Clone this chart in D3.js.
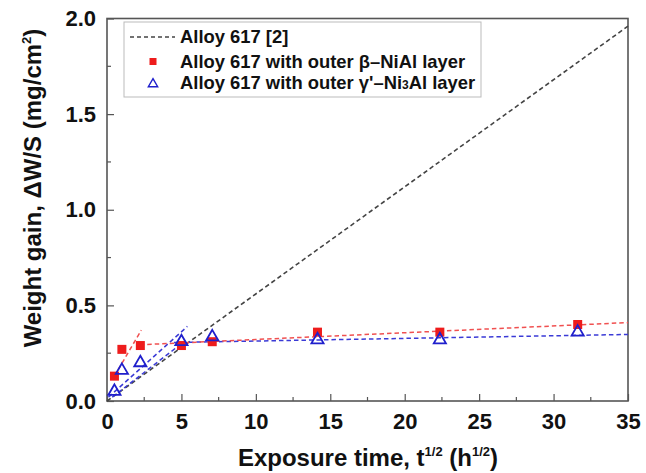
<!DOCTYPE html>
<html>
<head>
<meta charset="utf-8">
<script src="https://cdn.jsdelivr.net/npm/d3@7/dist/d3.min.js"></script>
<style>
  html, body { margin: 0; padding: 0; background: #fff; }
  svg { display: block; }
  text { font-family: "Liberation Sans", Arial, sans-serif; font-weight: bold; fill: #111; }
</style>
</head>
<body>
<svg id="chart" width="646" height="473"></svg>
<script>
// Square-root of exposure time (h^1/2) for each measurement
const timeRoot = [0.5, 1.0, 2.24, 5.0, 7.07, 14.14, 22.36, 31.62];
// Weight gain (mg/cm^2), coating with outer beta-NiAl layer
const betaGain = [0.13, 0.27, 0.29, 0.29, 0.31, 0.36, 0.36, 0.40];
// Weight gain (mg/cm^2), coating with outer gamma'-Ni3Al layer
const gammaGain = [0.05, 0.16, 0.20, 0.31, 0.335, 0.32, 0.32, 0.36];

// Reference parabolic line for bare Alloy 617
const refT = [0, 35];
const refW = [0, 1.96];
// Fitted dashed lines for the two coatings (endpoints)
const betaEarlyT = [0.5, 2.3];
const betaEarlyW = [0.13, 0.37];
const betaLateT = [2.2, 35];
const betaLateW = [0.294, 0.41];
const gammaEarlyAT = [0.1, 5.4];
const gammaEarlyAW = [0.02, 0.39];
const gammaEarlyBT = [0.35, 5.0];
const gammaEarlyBW = [0.02, 0.30];
const gammaLateT = [4.5, 35];
const gammaLateW = [0.306, 0.348];

const xTicks = [0, 5, 10, 15, 20, 25, 30, 35];
const yTicks = [0.0, 0.5, 1.0, 1.5, 2.0];

const legendLabels = ["Alloy 617 [2]", "Alloy 617 with outer β–NiAl layer", "Alloy 617 with outer γ'–Ni", "Al layer"];

const svg = d3.select("#chart");
const plotLeft = 107, plotRight = 628, plotTop = 18.5, plotBottom = 401;

const x = d3.scaleLinear().domain([0, 35]).range([plotLeft, plotRight]);
const y = d3.scaleLinear().domain([0, 2.0]).range([plotBottom, plotTop]);

const RED = "#ee1c1c", BLUE = "#1f1fcc";

// Axes: major ticks and labels, then minor ticks, all pointing inward
const xAxis = d3.axisBottom(x).tickValues(xTicks).tickSize(-7).tickPadding(12).tickFormat(d3.format("d"));
const gx = svg.append("g").attr("transform", `translate(0,${plotBottom})`).call(xAxis);
const yAxis = d3.axisLeft(y).tickValues(yTicks).tickSize(-7).tickPadding(11).tickFormat(d3.format(".1f"));
const gy = svg.append("g").attr("transform", `translate(${plotLeft},0)`).call(yAxis);
[gx, gy].forEach(g => {
  g.select(".domain").remove();
  g.selectAll(".tick line").attr("stroke", "#555").attr("stroke-width", 1.2);
  g.selectAll(".tick text").style("font-size", "22px").style("font-family", '"Liberation Sans", Arial, sans-serif').style("font-weight", "bold").attr("fill", "#111");
});
gx.selectAll(".tick text").attr("dy", "0.71em");

const xMinor = d3.range(2.5, 35, 5);
const yMinor = d3.range(0.25, 2.0, 0.5);
svg.append("g").selectAll("line").data(xMinor).join("line")
  .attr("x1", d => x(d)).attr("x2", d => x(d))
  .attr("y1", plotBottom).attr("y2", plotBottom - 4)
  .attr("stroke", "#555").attr("stroke-width", 1.2);
svg.append("g").selectAll("line").data(yMinor).join("line")
  .attr("x1", plotLeft).attr("x2", plotLeft + 4)
  .attr("y1", d => y(d)).attr("y2", d => y(d))
  .attr("stroke", "#555").attr("stroke-width", 1.2);

// Plot frame
svg.append("rect")
  .attr("x", plotLeft).attr("y", plotTop)
  .attr("width", plotRight - plotLeft).attr("height", plotBottom - plotTop)
  .attr("fill", "none").attr("stroke", "#555").attr("stroke-width", 1.6);

// Dashed lines
const lineGen = d3.line().x(d => x(d[0])).y(d => y(d[1]));
function dashed(ts, ws, color, width) {
  svg.append("path")
    .datum(d3.zip(ts, ws))
    .attr("d", lineGen)
    .attr("fill", "none")
    .attr("stroke", color)
    .attr("stroke-width", width)
    .attr("stroke-dasharray", "4.5,3");
}
dashed(refT, refW, "#444", 1.6);
dashed(gammaEarlyAT, gammaEarlyAW, "#3a3ad6", 1.5);
dashed(gammaEarlyBT, gammaEarlyBW, "#3a3ad6", 1.5);
dashed(gammaLateT, gammaLateW, "#3a3ad6", 1.5);
dashed(betaEarlyT, betaEarlyW, "#f05050", 1.5);
dashed(betaLateT, betaLateW, "#f05050", 1.5);

// Markers
const pts = d3.zip(timeRoot, betaGain, gammaGain);
svg.append("g").selectAll("rect").data(pts).join("rect")
  .attr("x", d => x(d[0]) - 4.5).attr("y", d => y(d[1]) - 4.5)
  .attr("width", 9).attr("height", 9)
  .attr("fill", RED);
const tri = d3.symbol().type(d3.symbolTriangle).size(64);
svg.append("g").selectAll("path").data(pts).join("path")
  .attr("d", tri)
  .attr("transform", d => `translate(${x(d[0])},${y(d[2])})`)
  .attr("fill", "none").attr("stroke", BLUE).attr("stroke-width", 1.8);

// Legend
const lg = svg.append("g");
lg.append("rect").attr("x", 124).attr("y", 22).attr("width", 357).attr("height", 75)
  .attr("fill", "#fff").attr("stroke", "#bbb").attr("stroke-width", 1);
lg.append("line").attr("x1", 130).attr("x2", 175).attr("y1", 37).attr("y2", 37)
  .attr("stroke", "#444").attr("stroke-width", 1.5).attr("stroke-dasharray", "4,3");
lg.append("rect").attr("x", 149.5).attr("y", 58).attr("width", 7).attr("height", 7).attr("fill", RED);
lg.append("path").attr("d", d3.symbol().type(d3.symbolTriangle).size(38))
  .attr("transform", "translate(153,84)")
  .attr("fill", "none").attr("stroke", BLUE).attr("stroke-width", 1.4);
const lgFont = "18.4px";
lg.append("text").attr("x", 180).attr("y", 43).style("font-size", lgFont).text(legendLabels[0]);
lg.append("text").attr("x", 180).attr("y", 68).style("font-size", lgFont).text(legendLabels[1]);
const t3 = lg.append("text").attr("x", 180).attr("y", 89).style("font-size", lgFont);
t3.append("tspan").text(legendLabels[2]);
t3.append("tspan").style("font-size", "12px").text("3");
t3.append("tspan").text(legendLabels[3]);

// Axis titles
const xt = svg.append("text").attr("x", 368).attr("y", 466).attr("text-anchor", "middle").style("font-size", "24px");
xt.append("tspan").text("Exposure time, t");
xt.append("tspan").attr("dy", -10).style("font-size", "13px").text("1/2");
xt.append("tspan").attr("dy", 10).text(" (h");
xt.append("tspan").attr("dy", -10).style("font-size", "13px").text("1/2");
xt.append("tspan").attr("dy", 10).text(")");

const yt = svg.append("text").attr("transform", "translate(41,188) rotate(-90)").attr("text-anchor", "middle").style("font-size", "24px");
yt.append("tspan").text("Weight gain, ΔW/S (mg/cm");
yt.append("tspan").attr("dy", -10).style("font-size", "13px").text("2");
yt.append("tspan").attr("dy", 10).text(")");
</script>
</body>
</html>
